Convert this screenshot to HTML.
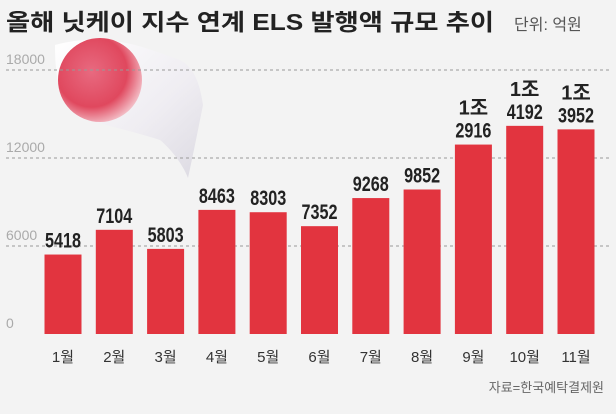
<!DOCTYPE html>
<html><head><meta charset="utf-8"><style>
body{margin:0;width:616px;height:409px;background:#f3f3f3;overflow:hidden;font-family:"Liberation Sans","Noto Sans CJK KR",sans-serif}
</style></head><body>
<svg id="c" width="616" height="409" xmlns="http://www.w3.org/2000/svg">
<defs>
<radialGradient id="sun" cx="0.4" cy="0.4" r="0.65"><stop offset="0" stop-color="#e86a80"/><stop offset="0.65" stop-color="#e0485e"/><stop offset="1" stop-color="#f4c4cc"/></radialGradient>
<linearGradient id="cloth" x1="0" y1="0" x2="1" y2="1"><stop offset="0" stop-color="#ffffff"/><stop offset="0.6" stop-color="#efedf2"/><stop offset="1" stop-color="#dcdae2"/></linearGradient>
</defs>
<path d="M55 45 C110 30 150 50 180 60 C195 68 200 85 203 105 C198 130 192 160 188 178 C183 165 172 150 160 140 C135 132 105 125 80 118 C62 105 55 85 55 45 Z" fill="url(#cloth)"/>
<ellipse cx="100" cy="80" rx="42" ry="42" fill="url(#sun)"/>
<text x="6" y="30" font-size="23" font-weight="bold" fill="#222" textLength="488" lengthAdjust="spacingAndGlyphs">올해 닛케이 지수 연계 ELS 발행액 규모 추이</text>
<text x="514" y="30" font-size="16" fill="#555">단위: 억원</text>
<g id="grid"></g><g id="bars"></g>
<text x="604" y="392" font-size="13" fill="#666" text-anchor="end">자료=한국예탁결제원</text>
</svg>
<script>
const months=["1월","2월","3월","4월","5월","6월","7월","8월","9월","10월","11월"];
const values=[5418,7104,5803,8463,8303,7352,9268,9852,12916,14192,13952];
const ticks=[0,6000,12000,18000];
const NS="http://www.w3.org/2000/svg";
const y=v=>334-v*88/6000;
const x=i=>63+i*51.3;
const g=document.getElementById('grid'),b=document.getElementById('bars');
function mk(t,a,p,txt){const e=document.createElementNS(NS,t);for(const k in a)e.setAttribute(k,a[k]);if(txt!==undefined)e.textContent=txt;p.appendChild(e);return e;}
ticks.forEach(t=>{
 if(t>0){const l=mk('line',{x1:6,x2:612,y1:y(t),y2:y(t),stroke:'#999','stroke-dasharray':'3,3','stroke-width':1},g);
 
 }
 const tx=mk('text',{x:6,y:y(t)-6,'font-size':14,fill:'#aaa'},g,String(t));
 
 
});
const vstyle={'font-size':21,'font-weight':'bold',fill:'#222','text-anchor':'middle',textLength:36,lengthAdjust:'spacingAndGlyphs'};
values.forEach((v,i)=>{
 const cx=x(i);
 const r=mk('rect',{x:cx-18.5,y:y(v),width:37,height:334-y(v),fill:'#e2343f'},b);
 
 
 const m=mk('text',{x:cx,y:362,'font-size':15,fill:'#333','text-anchor':'middle'},b,months[i]);
 
 
 if(v>=10000){
  const a=mk('text',{x:cx,y:y(v)-30,'font-size':20,'font-weight':'bold',fill:'#222','text-anchor':'middle'},b,Math.floor(v/10000)+'조');
  
  
  const c=mk('text',Object.assign({x:cx,y:y(v)-7},vstyle),b,String(v%10000));
  
  
 }else{
  const c=mk('text',Object.assign({x:cx,y:y(v)-7},vstyle),b,String(v));
  
  
 }
});
</script>
</body></html>
